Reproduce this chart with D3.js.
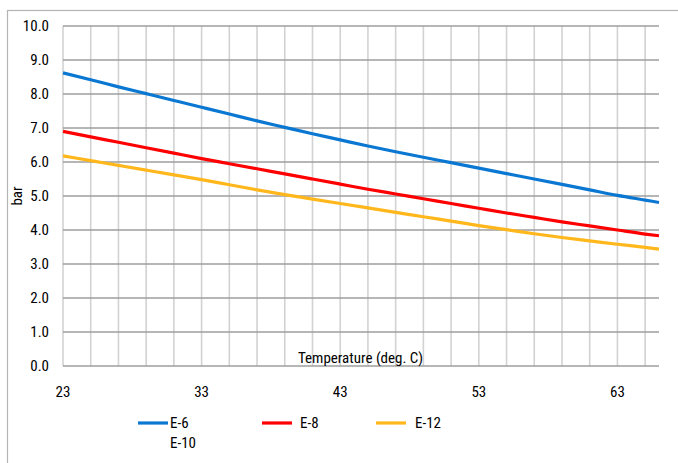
<!DOCTYPE html>
<html><head><meta charset="utf-8">
<script src="https://cdn.jsdelivr.net/npm/d3@7"></script>
<style>
body{margin:0;background:#fff;}
text{font-family:"Liberation Sans Narrow","Roboto Condensed","Liberation Sans",Arial,sans-serif;fill:#000;}
</style></head>
<body><svg id="c" width="678" height="463"></svg>
<script>
const temps = [23,25,27,29,31,33,35,37,39,41,43,45,47,49,51,53,55,57,59,61,63,65,66];
const e6  = [8.62,8.42,8.21,8.01,7.81,7.61,7.41,7.21,7.02,6.83,6.65,6.47,6.30,6.14,5.98,5.82,5.66,5.50,5.34,5.18,5.02,4.88,4.81];
const e8  = [6.90,6.74,6.58,6.42,6.26,6.10,5.95,5.80,5.65,5.50,5.35,5.20,5.06,4.92,4.78,4.64,4.50,4.37,4.24,4.12,4.00,3.88,3.83];
const e10 = [];
const e12 = [6.18,6.04,5.90,5.76,5.62,5.48,5.33,5.18,5.04,4.91,4.78,4.65,4.52,4.39,4.26,4.13,4.01,3.89,3.78,3.68,3.58,3.49,3.44];
const xTicks = [23,33,43,53,63];
const yTicks = [0,1,2,3,4,5,6,7,8,9,10];
const seriesNames = ["E-6","E-8","E-10","E-12"];
const seriesColors = ["#0a78d2","#ff0000","none","#ffb71b"];
const seriesData = [e6,e8,e10,e12];

const svg = d3.select("#c");
const L=63,R=659,T=26,B=366;
const x = d3.scaleLinear().domain([23,66]).range([L,R]);
const y = d3.scaleLinear().domain([0,10]).range([B,T]);

// outer border
svg.append("rect").attr("x",7.5).attr("y",10.5).attr("width",720).attr("height",520)
  .attr("fill","none").attr("stroke","#b4b4b4").attr("stroke-width",1.2);

// vertical grid
const vg = d3.range(23,66,2);
svg.append("g").selectAll("line").data(vg).join("line")
  .attr("x1",d=>x(d)).attr("x2",d=>x(d)).attr("y1",T).attr("y2",B)
  .attr("stroke","#d2d2d2").attr("stroke-width",1.6);
// horizontal grid
svg.append("g").selectAll("line").data(yTicks).join("line")
  .attr("x1",L).attr("x2",R).attr("y1",d=>y(d)).attr("y2",d=>y(d))
  .attr("stroke","#9e9e9e").attr("stroke-width",1.3);

// y tick labels
svg.append("g").selectAll("text").data(yTicks).join("text")
  .attr("x",49).attr("y",d=>y(d)).attr("dy","0.35em").attr("text-anchor","end")
  .attr("font-size",15).text(d=>d3.format(".1f")(d));

// x tick labels
svg.append("g").selectAll("text").data(xTicks).join("text")
  .attr("x",d=>x(d)).attr("y",392).attr("dy","0.35em").attr("text-anchor","middle")
  .attr("font-size",15).text(d=>d);

// axis titles
svg.append("text").attr("x",298).attr("y",363).attr("font-size",15).text("Temperature (deg. C)");
svg.append("text").attr("transform","translate(22,196) rotate(-90)").attr("text-anchor","middle")
  .attr("font-size",15).text("bar");

// lines
const line = d3.line().x((d,i)=>x(temps[i])).y(d=>y(d)).curve(d3.curveMonotoneX);
seriesData.forEach((s,k)=>{
  if(!s.length) return;
  svg.append("path").datum(s).attr("d",line).attr("fill","none")
    .attr("stroke",seriesColors[k]).attr("stroke-width",3.2).attr("stroke-linejoin","round");
});

// legend
const leg = [
  {n:0,lx:138,tx:170,y:423},
  {n:1,lx:262,tx:300,y:423},
  {n:3,lx:376,tx:415,y:423},
  {n:2,lx:null,tx:170,y:443}
];
leg.forEach(o=>{
  if(o.lx!==null && seriesColors[o.n]!=="none"){
    svg.append("line").attr("x1",o.lx).attr("x2",o.lx+30).attr("y1",o.y).attr("y2",o.y)
      .attr("stroke",seriesColors[o.n]).attr("stroke-width",3.2);
  }
  svg.append("text").attr("x",o.tx).attr("y",o.y).attr("dy","0.35em").attr("font-size",15).text(seriesNames[o.n]);
});
</script></body></html>
